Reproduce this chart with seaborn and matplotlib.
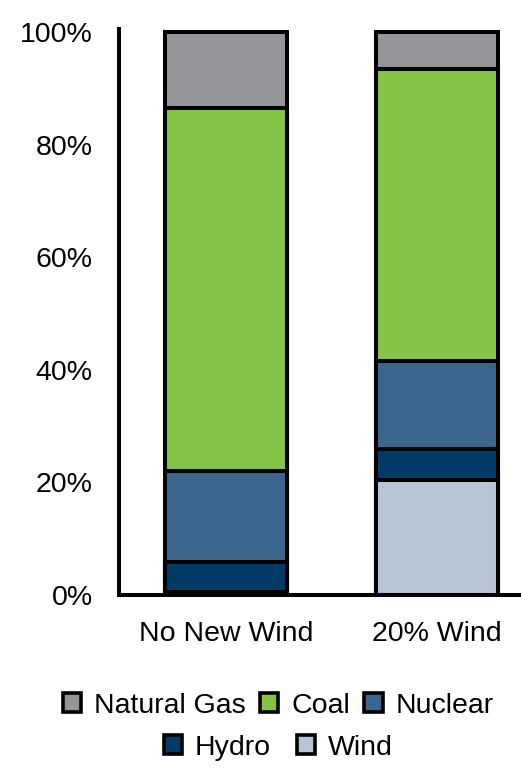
import matplotlib
matplotlib.use("Agg")
import matplotlib.pyplot as plt
import seaborn as sns
import pandas as pd
import numpy as np
from matplotlib.patches import Patch

scenarios = ["No New Wind", "20% Wind"]
# stacking order bottom -> top
sources = ["Wind", "Hydro", "Nuclear", "Coal", "Natural Gas"]
wind = [0.6, 20.5]
hydro = [5.3, 5.5]
nuclear = [16.1, 15.5]
coal = [64.5, 52.0]
natural_gas = [13.5, 6.5]
yticks = [0, 20, 40, 60, 80, 100]

colors = {
    "Natural Gas": "#939598",
    "Coal": "#84c446",
    "Nuclear": "#3b668e",
    "Hydro": "#013a66",
    "Wind": "#b8c4d8",
}

values = {"Wind": wind, "Hydro": hydro, "Nuclear": nuclear,
          "Coal": coal, "Natural Gas": natural_gas}

sns.set_theme(style="white")
plt.rcParams['font.family'] = ['Liberation Sans', 'DejaVu Sans']
plt.rcParams['text.color'] = 'black'

fig = plt.figure(figsize=(5.21, 7.84), dpi=100)
ax = fig.add_axes([0.2284, 0.241, 0.85, 0.7216])

cum = np.zeros(len(scenarios))
cums = {}
for s in sources:
    cum = cum + np.array(values[s])
    cums[s] = cum.copy()

for s in reversed(sources):
    df = pd.DataFrame({"scenario": scenarios, "value": cums[s]})
    sns.barplot(data=df, x="scenario", y="value", color=colors[s],
                saturation=1, width=0.578, edgecolor="black",
                linewidth=2.9, ax=ax, zorder=2)

ax.set_xlim(-0.507, 1.592)
ax.set_ylim(0, 100.5)
ax.set_yticks(yticks)
ax.set_yticklabels([f"{v}%" for v in yticks])
ax.set_xlabel("")
ax.set_ylabel("")
ax.tick_params(axis="both", length=0, labelsize=20.5, colors="black")
ax.tick_params(axis="y", pad=19)
ax.tick_params(axis="x", pad=19)
for side in ["top", "right"]:
    ax.spines[side].set_visible(False)
for side in ["left", "bottom"]:
    ax.spines[side].set_color("black")
    ax.spines[side].set_linewidth(2.9)
ax.grid(False)

def handles(names):
    return [Patch(facecolor=colors[n], edgecolor="black", linewidth=2.6, label=n)
            for n in names]

leg1 = fig.legend(handles=handles(["Natural Gas", "Coal", "Nuclear"]),
                  loc="center", bbox_to_anchor=(0.534, 0.100), ncol=3,
                  frameon=False, fontsize=20.5, handlelength=0.65, handleheight=0.65,
                  handletextpad=0.45, columnspacing=0.5, borderaxespad=0,
                  labelcolor="black")
leg2 = fig.legend(handles=handles(["Hydro", "Wind"]),
                  loc="center", bbox_to_anchor=(0.534, 0.046), ncol=2,
                  frameon=False, fontsize=20.5, handlelength=0.65, handleheight=0.65,
                  handletextpad=0.45, columnspacing=0.9, borderaxespad=0,
                  labelcolor="black")

fig.savefig("out.png", dpi=100, facecolor="white")
